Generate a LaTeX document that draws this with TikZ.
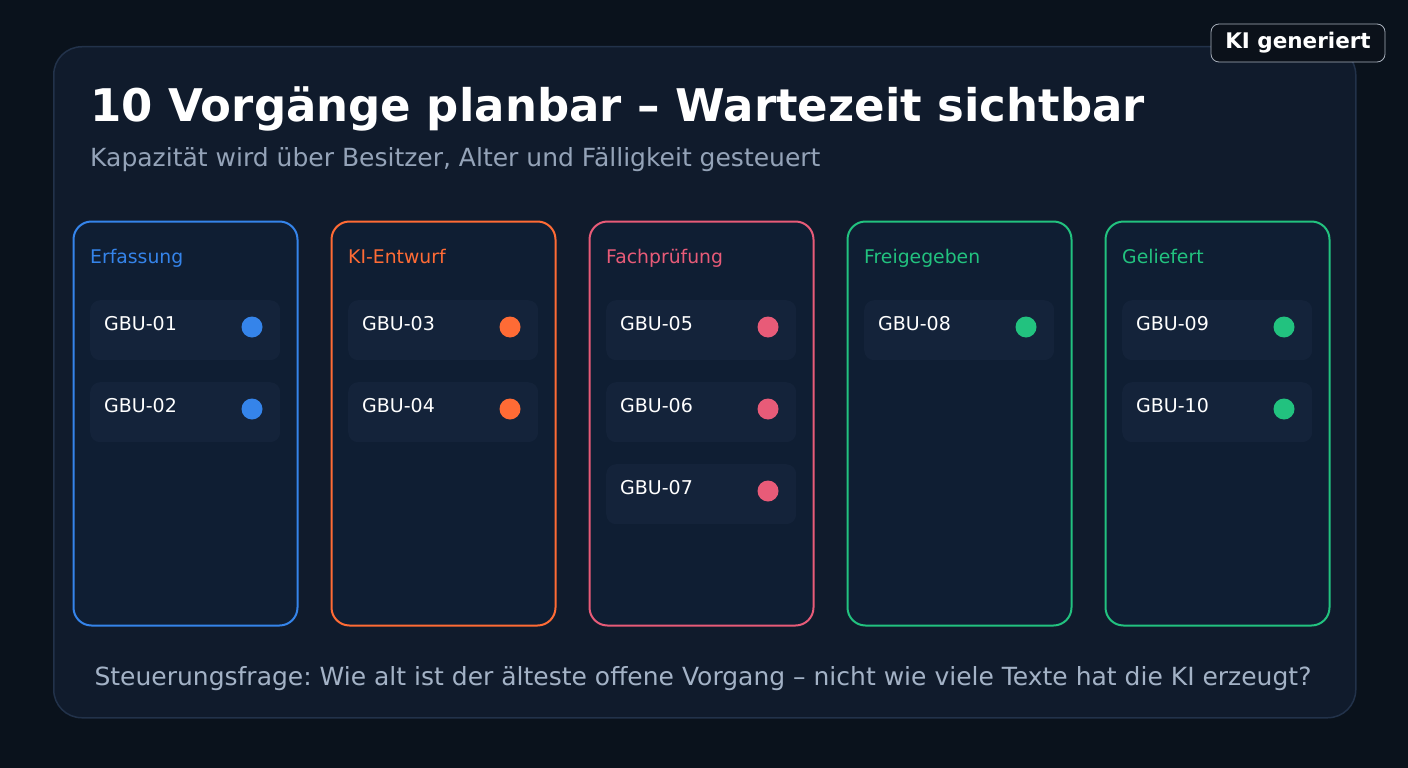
\documentclass[tikz,border=0pt]{standalone}
\usepackage{fontspec}
\setmainfont{DejaVu Sans}
\frenchspacing
\definecolor{bgc}{HTML}{0A121C}
\definecolor{panelc}{HTML}{101B2C}
\definecolor{paneledge}{HTML}{22324A}
\definecolor{colfill}{HTML}{0F1E33}
\definecolor{cardfill}{HTML}{14233A}
\definecolor{subc}{HTML}{94A3B8}
\definecolor{footc}{HTML}{A3B2C6}
\definecolor{cblue}{HTML}{3584EA}
\definecolor{corange}{HTML}{FF6B35}
\definecolor{cpink}{HTML}{E85B78}
\definecolor{cgreen}{HTML}{22C27F}
\definecolor{badgefill}{HTML}{0B111A}
\definecolor{badgeedge}{HTML}{A8B0BC}
\tikzset{
  colbox/.style={draw=#1, line width=2pt, fill=colfill, rounded corners=18pt},
  cardbox/.style={fill=cardfill, rounded corners=10pt},
  coltitle/.style={text=#1, anchor=base west, font=\fontsize{18.8}{22}\selectfont, inner sep=0},
  cardtxt/.style={text=white, anchor=base west, font=\fontsize{19}{22}\selectfont, inner sep=0},
  dotm/.style={circle, fill=#1, minimum size=21pt, inner sep=0},
}
\begin{document}
\begin{tikzpicture}[x=1pt,y=-1pt]
\fill[bgc] (0,0) rectangle (1408,768);
\useasboundingbox (0,0) rectangle (1408,768);
\node[draw=paneledge, line width=1.5pt, fill=panelc, rounded corners=28pt, minimum width=1302pt, minimum height=671pt, inner sep=0, anchor=north west] (panel) at (53,46) {};
% badge
\node[draw=badgeedge, line width=0.8pt, fill=badgefill, rounded corners=8pt, minimum width=174pt, minimum height=38pt, inner sep=0, text=white, font=\bfseries\fontsize{21.5}{25}\selectfont] (badge) at (1298,43) {KI generiert};
% title
\node[anchor=base west, inner sep=0, text=white, font=\bfseries\fontsize{45}{54}\selectfont] (title) at (90,121) {10 Vorgänge planbar – Wartezeit sichtbar};
\node[anchor=base west, inner sep=0, text=subc, font=\fontsize{25}{29}\selectfont] (subtitle) at (90,166) {Kapazität wird über Besitzer, Alter und Fälligkeit gesteuert};
% columns
\foreach \i/\x/\c/\t in {1/73/cblue/Erfassung, 2/331/corange/KI-Entwurf, 3/589/cpink/Fachprüfung, 4/847/cgreen/Freigegeben, 5/1105/cgreen/Geliefert}{
  \node[colbox=\c, minimum width=224pt, minimum height=404pt, inner sep=0, anchor=north west] (col\i) at (\x-0.5,220.5) {};
  \node[coltitle=\c] (coltitle\i) at (\x+17,263) {\t};
}
% cards
\foreach \n/\x/\y/\c in {01/90/300/cblue, 02/90/382/cblue, 03/348/300/corange, 04/348/382/corange, 05/606/300/cpink, 06/606/382/cpink, 07/606/464/cpink, 08/864/300/cgreen, 09/1122/300/cgreen, 10/1122/382/cgreen}{
  \node[cardbox, minimum width=190pt, minimum height=60pt, inner sep=0, anchor=north west] (card\n) at (\x,\y) {};
  \node[cardtxt] (cardtxt\n) at (\x+14,\y+30) {GBU-\n};
  \node[dotm=\c] (dot\n) at (\x+162,\y+27) {};
}
\node[inner sep=0, anchor=base, text=footc, font=\fontsize{25}{29}\selectfont] (footer) at (703,685) {Steuerungsfrage: Wie alt ist der älteste offene Vorgang – nicht wie viele Texte hat die KI erzeugt?};
\end{tikzpicture}
\end{document}
